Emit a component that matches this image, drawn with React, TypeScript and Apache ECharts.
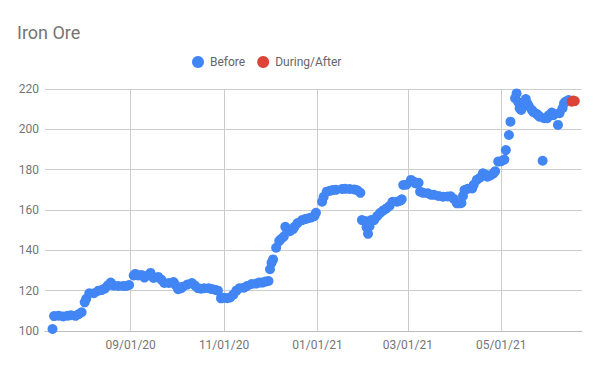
import React, { useEffect, useRef } from "react";
import * as echarts from "echarts";

const title = "Iron Ore";
const seriesNames = ["Before", "During/After"];

const beforeDates = [
  "2020-07-12", "2020-07-13", "2020-07-16", "2020-07-19", "2020-07-22", "2020-07-24", "2020-07-27", "2020-07-29", "2020-07-31",
  "2020-08-02", "2020-08-03", "2020-08-05", "2020-08-08", "2020-08-11", "2020-08-13", "2020-08-15", "2020-08-17", "2020-08-19",
  "2020-08-21", "2020-08-24", "2020-08-27", "2020-08-29", "2020-08-31",
  "2020-09-03", "2020-09-04", "2020-09-06", "2020-09-08", "2020-09-10", "2020-09-12", "2020-09-14", "2020-09-16", "2020-09-19",
  "2020-09-21", "2020-09-23", "2020-09-26", "2020-09-29", "2020-09-30",
  "2020-10-02", "2020-10-04", "2020-10-05", "2020-10-08", "2020-10-11", "2020-10-13", "2020-10-15", "2020-10-17", "2020-10-19",
  "2020-10-22", "2020-10-24", "2020-10-26", "2020-10-28", "2020-10-30",
  "2020-11-01", "2020-11-03", "2020-11-05", "2020-11-07", "2020-11-09", "2020-11-11", "2020-11-14", "2020-11-16", "2020-11-19",
  "2020-11-22", "2020-11-24", "2020-11-26", "2020-11-28", "2020-11-30",
  "2020-12-01", "2020-12-02", "2020-12-03", "2020-12-05", "2020-12-07", "2020-12-08", "2020-12-10", "2020-12-11", "2020-12-12",
  "2020-12-14", "2020-12-16", "2020-12-17", "2020-12-19", "2020-12-22", "2020-12-24", "2020-12-26", "2020-12-28", "2020-12-30",
  "2020-12-31",
  "2021-01-04", "2021-01-05", "2021-01-07", "2021-01-09", "2021-01-11", "2021-01-13", "2021-01-17", "2021-01-19", "2021-01-22",
  "2021-01-25", "2021-01-27", "2021-01-29", "2021-01-30",
  "2021-02-01", "2021-02-02", "2021-02-03", "2021-02-04", "2021-02-05", "2021-02-07", "2021-02-09", "2021-02-11", "2021-02-13",
  "2021-02-15", "2021-02-17", "2021-02-19", "2021-02-22", "2021-02-24", "2021-02-25", "2021-02-26", "2021-02-28",
  "2021-03-03", "2021-03-05", "2021-03-06", "2021-03-08", "2021-03-09", "2021-03-11", "2021-03-14", "2021-03-16", "2021-03-18",
  "2021-03-21", "2021-03-24", "2021-03-27", "2021-03-29", "2021-03-31",
  "2021-04-02", "2021-04-04", "2021-04-05", "2021-04-06", "2021-04-07", "2021-04-09", "2021-04-12", "2021-04-13", "2021-04-15",
  "2021-04-17", "2021-04-19", "2021-04-21", "2021-04-22", "2021-04-24", "2021-04-26", "2021-04-27", "2021-04-29",
  "2021-05-01", "2021-05-03", "2021-05-04", "2021-05-06", "2021-05-07", "2021-05-10", "2021-05-11", "2021-05-12", "2021-05-13",
  "2021-05-14", "2021-05-16", "2021-05-17", "2021-05-18", "2021-05-19", "2021-05-21", "2021-05-22", "2021-05-24", "2021-05-25",
  "2021-05-26", "2021-05-28", "2021-05-29", "2021-05-31",
  "2021-06-01", "2021-06-03", "2021-06-04", "2021-06-07", "2021-06-08", "2021-06-10", "2021-06-11", "2021-06-12", "2021-06-14",
];

const beforeValues = [
  101, 107.4, 107.6, 107.2, 107.6, 107.8, 107.5, 108.3, 109.3,
  114.2, 116, 118.7, 118.7, 120, 120.3, 121, 122.5, 124,
  122.5, 122.3, 122.3, 122.3, 122.8,
  127.5, 128.3, 127.5, 127.8, 126.5, 127.5, 128.8, 126.3, 126.8,
  125.5, 123.8, 123.8, 124.3, 123,
  120.7, 121.2, 122, 123, 123.8, 122.5, 121.2, 121, 121.2,
  121.2, 120.8, 120.5, 120, 116.2,
  116.5, 116.3, 116.6, 118, 120, 121.2, 121.5, 122.3, 123.3,
  123.5, 124, 124, 124.5, 124.8,
  130.6, 133.9, 135.5, 141.3, 144.6, 145.5, 146.8, 151.7, 150.5,
  149.5, 150.5, 151.7, 153.5, 155, 155.5, 155.9, 156.3, 157,
  158.6,
  164.1, 166.5, 169.1, 169.5, 169.9, 170, 170.4, 170.5, 170.4,
  170.2, 169.8, 168.5, 155,
  154.6, 151.5, 148.2, 152, 155, 155, 157, 158.6, 159.8,
  160.8, 162, 164.1, 164.1, 164.6, 165.3, 172.4, 172.5,
  174.9, 174, 173.2, 173.5, 169.1, 168.5, 168.3, 167.6, 167.5,
  167, 166.6, 166.7, 166.8, 165.5,
  163.3, 163.3, 163.5, 167, 169.9, 170.5, 170.7, 172.5, 174.9,
  176, 178.2, 177.5, 176.5, 177.2, 178.2, 179.2, 184,
  184.2, 185, 189.7, 197.2, 203.8, 215.4, 217.8, 213.5, 210.4,
  209.6, 213, 215, 212.8, 211.5, 209.6, 208.5, 207.7, 207.1,
  206.3, 184.4, 205.5, 205.5,
  207, 208.3, 207, 202.2, 208, 210.5, 212.9, 213.8, 214.5,
];

const afterDates = ["2021-06-16", "2021-06-17", "2021-06-18"];
const afterValues = [213.7, 214.3, 214];

const xTickDates = ["2020-09-01", "2020-11-01", "2021-01-01", "2021-03-01", "2021-05-01"];
const xMin = "2020-07-07 02:00";
const xMax = "2021-06-22 17:00";
const yMin = 100;
const yMax = 220;
const yInterval = 20;

function toTs(s: string): number {
  const [datePart, timePart] = s.split(" ");
  const [y, m, d] = datePart.split("-").map(Number);
  let hh = 0;
  let mm = 0;
  if (timePart) {
    const t = timePart.split(":").map(Number);
    hh = t[0];
    mm = t[1];
  }
  return new Date(y, m - 1, d, hh, mm).getTime();
}

function pad(n: number) {
  return n < 10 ? "0" + n : "" + n;
}

export default function App() {
  const ref = useRef<HTMLDivElement>(null);
  useEffect(() => {
    if (!ref.current) return;
    const chart = echarts.init(ref.current, null, { renderer: "svg" });
    const tickTs = xTickDates.map(toTs);
    const labelColor = "#757575";
    chart.setOption({
      animation: false,
      backgroundColor: "#ffffff",
      textStyle: { fontFamily: "Roboto" },
      title: {
        text: title,
        left: 12,
        top: 18,
        textStyle: { fontFamily: "Roboto", fontSize: 18, fontWeight: "normal", color: "#757575" },
      },
      legend: {
        data: [
          { name: seriesNames[0], icon: "circle" },
          { name: seriesNames[1], icon: "circle" },
        ],
        left: 187,
        top: 51,
        itemWidth: 14,
        itemHeight: 12,
        itemGap: 12,
        textStyle: { fontFamily: "Roboto", fontSize: 12, color: "#666666" },
      },
      grid: { left: 45, right: 18, top: 89, bottom: 40, containLabel: false },
      xAxis: {
        type: "value",
        min: toTs(xMin),
        max: toTs(xMax),
        axisLine: { show: true, lineStyle: { color: "#bdbdbd", width: 1 } },
        axisTick: { show: false, customValues: tickTs },
        splitLine: { show: true, lineStyle: { color: "#cccccc", width: 1 } },
        axisLabel: {
          customValues: tickTs,
          color: labelColor,
          fontSize: 12,
          margin: 8,
          formatter: (v: number) => {
            const d = new Date(v);
            return pad(d.getMonth() + 1) + "/" + pad(d.getDate()) + "/" + pad(d.getFullYear() % 100);
          },
        },
      },
      yAxis: {
        type: "value",
        min: yMin,
        max: yMax,
        interval: yInterval,
        axisLine: { show: false },
        axisTick: { show: false },
        splitLine: { show: true, lineStyle: { color: "#cccccc", width: 1 } },
        axisLabel: { color: labelColor, fontSize: 12, margin: 6 },
      },
      series: [
        {
          name: seriesNames[0],
          type: "scatter",
          symbolSize: 10,
          itemStyle: { color: "#4285F4", opacity: 1 },
          data: beforeDates.map((d, i) => [toTs(d), beforeValues[i]]),
          clip: false,
        },
        {
          name: seriesNames[1],
          type: "scatter",
          symbolSize: 10,
          itemStyle: { color: "#DB4437", opacity: 1 },
          data: afterDates.map((d, i) => [toTs(d), afterValues[i]]),
          clip: false,
        },
      ],
    });
    return () => chart.dispose();
  }, []);
  return <div ref={ref} style={{ width: 600, height: 371, position: "absolute", left: 0, top: 0 }} />;
}
